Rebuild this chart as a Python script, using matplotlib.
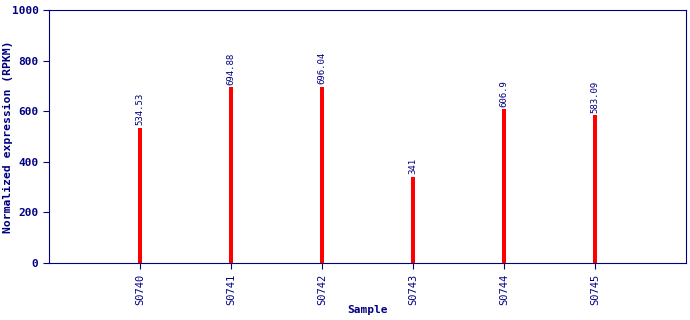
import numpy as np
import matplotlib.pyplot as plt

samples = ['S0740', 'S0741', 'S0742', 'S0743', 'S0744', 'S0745']
values = [534.53, 694.88, 696.04, 341, 606.9, 583.09]
labels = ['534.53', '694.88', '696.04', '341', '606.9', '583.09']

navy = '#000080'
plt.rcParams['font.family'] = 'DejaVu Sans Mono'

fig = plt.figure(figsize=(6.9, 3.2), dpi=100)
ax = fig.add_axes([49 / 690, 57 / 320, 637 / 690, 253 / 320])

x = np.arange(len(samples))
ax.bar(x, values, width=0.05, color='#ff0000')
for xi, v, lab in zip(x, values, labels):
    ax.text(xi, v + 10, lab, rotation=90, ha='center', va='bottom',
            fontsize=6.5, color=navy)

ax.set_xlim(-1, 6)
ax.set_ylim(0, 1000)
ax.set_yticks([0, 200, 400, 600, 800, 1000])
ax.set_xticks(x)
ax.set_xticklabels(samples, rotation=90, fontsize=7.5, color=navy)
for t in ax.get_yticklabels():
    t.set_fontweight('bold')
    t.set_fontsize(8)
    t.set_color(navy)
ax.tick_params(colors=navy, length=4)
for s in ax.spines.values():
    s.set_color(navy)
ax.set_xlabel('Sample', fontsize=8, fontweight='bold', color=navy, labelpad=0)
# y label placed by hand so it stays inside the figure
fig.text(8 / 690, 1 - 137 / 320, 'Normalized expression (RPKM)', rotation=90,
         ha='center', va='center', fontsize=8.2, fontweight='bold', color=navy)

fig.savefig('out.png', dpi=100)
